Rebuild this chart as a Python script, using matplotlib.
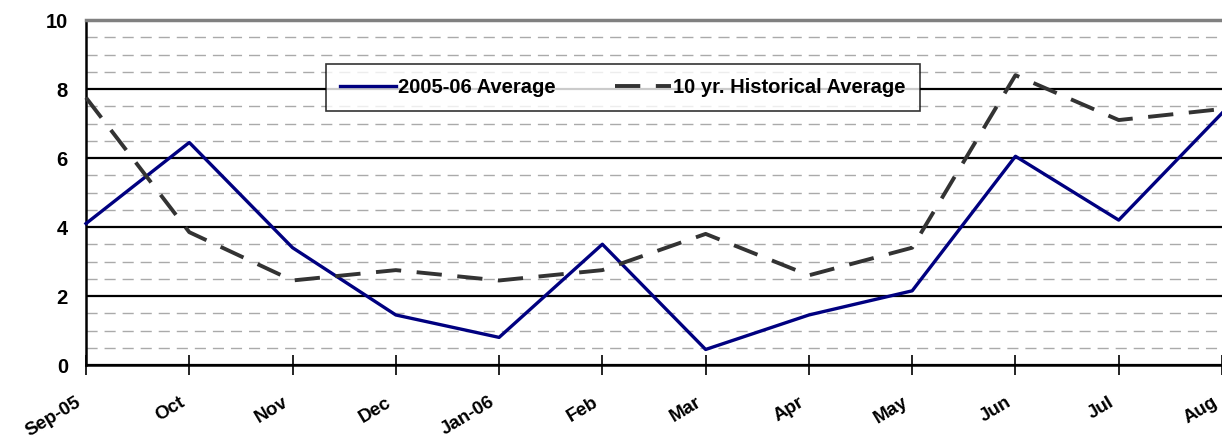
import numpy as np
import matplotlib
matplotlib.use('Agg')
import matplotlib.pyplot as plt
from matplotlib.ticker import MultipleLocator
from matplotlib.transforms import ScaledTranslation

plt.rcParams['font.family'] = ['Liberation Sans', 'DejaVu Sans']
plt.rcParams['font.weight'] = 'bold'

# Data.
months = ['Sep-05', 'Oct', 'Nov', 'Dec', 'Jan-06', 'Feb', 'Mar', 'Apr',
          'May', 'Jun', 'Jul', 'Aug']
avg_2005_06 = [4.1, 6.45, 3.4, 1.45, 0.8, 3.5, 0.45, 1.45, 2.15, 6.05, 4.2, 7.3]
hist_10yr = [7.75, 3.85, 2.45, 2.75, 2.45, 2.75, 3.8, 2.6, 3.4, 8.4, 7.1, 7.42]

fig = plt.figure(figsize=(12.22, 4.4), dpi=100)
ax = fig.add_axes([86 / 1222, 1 - 365 / 440, 1 - 86 / 1222, (365 - 20) / 440])

x = np.arange(len(months))

# Grid lines: solid black at major ticks, dashed gray in between.
ax.set_ylim(0, 10)
ax.set_xlim(0, len(months) - 1)
ax.yaxis.set_major_locator(MultipleLocator(2))
ax.yaxis.set_minor_locator(MultipleLocator(0.5))
ax.grid(True, which='major', axis='y', color='black', linewidth=1.6, zorder=1)
ax.grid(True, which='minor', axis='y', color='#aaaaaa', linewidth=1.0,
        linestyle=(0, (8, 5)), zorder=1)

ax.plot(x, avg_2005_06, color='#000080', linewidth=2.4, label='2005-06 Average',
        zorder=3, clip_on=False)
ax.plot(x, hist_10yr, color='#333333', linewidth=2.8, linestyle=(0, (6.5, 4)),
        label='10 yr. Historical Average', zorder=3, clip_on=False)

ax.set_xticks(x)
ax.set_xticklabels(months, rotation=31, ha='right', va='center',
                   rotation_mode='anchor', fontsize=13.5, fontweight='bold')
ax.tick_params(axis='x', direction='inout', length=14, width=1.2, pad=19)
shift = ScaledTranslation(-6 / 100, 0, fig.dpi_scale_trans)
for lab in ax.get_xticklabels():
    lab.set_transform(lab.get_transform() + shift)

ax.tick_params(axis='y', which='both', length=0, labelsize=14.5, pad=13)
for lab in ax.get_yticklabels():
    lab.set_fontweight('bold')

ax.spines['left'].set_linewidth(1.8)
ax.spines['bottom'].set_linewidth(1.8)
ax.spines['top'].set_color('#808080')
ax.spines['top'].set_linewidth(2.5)
ax.spines['right'].set_visible(False)

leg = ax.legend(loc='upper left', bbox_to_anchor=((326 - 86) / 1136, (365 - 64) / 345),
                ncol=2, frameon=True, fancybox=False, shadow=False,
                prop={'weight': 'bold', 'size': 14.5}, handlelength=2.8,
                handletextpad=0.1, columnspacing=2.9, borderpad=0.7,
                borderaxespad=0)
leg.get_frame().set_edgecolor('black')
leg.get_frame().set_linewidth(1.2)
leg.set_zorder(5)

plt.savefig('out.png', dpi=100)
